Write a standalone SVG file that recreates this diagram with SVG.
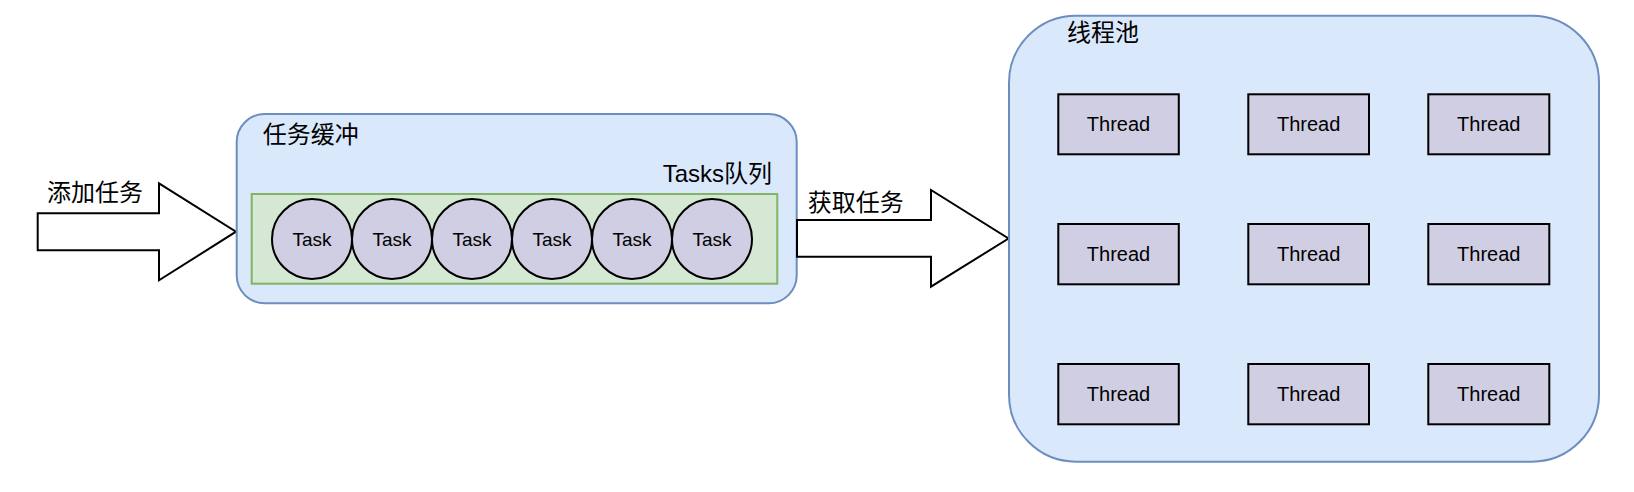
<svg xmlns="http://www.w3.org/2000/svg" width="1634" height="492" viewBox="0 0 1634 492">
<style>
.container{fill:#dae8fc;stroke:#6c8ebf;stroke-width:2}
.queue{fill:#d5e8d4;stroke:#82b366;stroke-width:2}
.item{fill:#d0cee2;stroke:#000;stroke-width:2}
.arrow{fill:#fff;stroke:#000;stroke-width:2;stroke-linejoin:miter}
.lbl{font-family:"Liberation Sans","Noto Sans CJK SC",sans-serif;font-size:24px;fill:#000}
.task{font-family:"Liberation Sans",Arial,sans-serif;font-size:19px;fill:#000;text-anchor:middle}
.thread{font-family:"Liberation Sans",Arial,sans-serif;font-size:20px;fill:#000;text-anchor:middle}
</style>
<g id="connectors">
  <g id="add-task-arrow">
    <polygon class="arrow" points="37.7,213.3 159,213.3 159,183.3 236,231.7 159,280.3 159,250.3 37.7,250.3"/>
    <text class="lbl" x="47" y="201">添加任务</text>
  </g>
</g>
<g id="buffer">
  <rect class="container" x="236.7" y="114" width="560" height="189.3" rx="28" ry="28"/>
  <text class="lbl" x="262.7" y="143">任务缓冲</text>
</g>
<g id="queue">
  <rect class="queue" x="251.7" y="194" width="525.6" height="89.7"/>
  <text class="lbl" x="772" y="181.7" text-anchor="end">Tasks队列</text>
</g>
<g id="task1"><circle class="item" cx="312" cy="239" r="40"/><text class="task" x="312" y="245.5">Task</text></g>
<g id="task2"><circle class="item" cx="392" cy="239" r="40"/><text class="task" x="392" y="245.5">Task</text></g>
<g id="task3"><circle class="item" cx="472" cy="239" r="40"/><text class="task" x="472" y="245.5">Task</text></g>
<g id="task4"><circle class="item" cx="552" cy="239" r="40"/><text class="task" x="552" y="245.5">Task</text></g>
<g id="task5"><circle class="item" cx="632" cy="239" r="40"/><text class="task" x="632" y="245.5">Task</text></g>
<g id="task6"><circle class="item" cx="712" cy="239" r="40"/><text class="task" x="712" y="245.5">Task</text></g>
<g id="connectors2">
  <g id="fetch-task-arrow">
    <polygon class="arrow" points="797,220 931,220 931,190 1008.5,238.5 931,286.7 931,256.7 797,256.7"/>
    <text class="lbl" x="807.7" y="211">获取任务</text>
  </g>
</g>
<g id="pool">
  <rect class="container" x="1009" y="15.7" width="590" height="446" rx="67" ry="67"/>
  <text class="lbl" x="1067" y="41">线程池</text>
</g>
<g id="thread1"><rect class="item" x="1058.3" y="94.3" width="120.5" height="60"/><text class="thread" x="1118.5" y="131">Thread</text></g>
<g id="thread2"><rect class="item" x="1248.3" y="94.3" width="120.7" height="60"/><text class="thread" x="1308.7" y="131">Thread</text></g>
<g id="thread3"><rect class="item" x="1428.3" y="94.3" width="121" height="60"/><text class="thread" x="1488.8" y="131">Thread</text></g>
<g id="thread4"><rect class="item" x="1058.3" y="224" width="120.5" height="60.3"/><text class="thread" x="1118.5" y="261">Thread</text></g>
<g id="thread5"><rect class="item" x="1248.3" y="224" width="120.7" height="60.3"/><text class="thread" x="1308.7" y="261">Thread</text></g>
<g id="thread6"><rect class="item" x="1428.3" y="224" width="121" height="60.3"/><text class="thread" x="1488.8" y="261">Thread</text></g>
<g id="thread7"><rect class="item" x="1058.3" y="364" width="120.5" height="60.3"/><text class="thread" x="1118.5" y="401">Thread</text></g>
<g id="thread8"><rect class="item" x="1248.3" y="364" width="120.7" height="60.3"/><text class="thread" x="1308.7" y="401">Thread</text></g>
<g id="thread9"><rect class="item" x="1428.3" y="364" width="121" height="60.3"/><text class="thread" x="1488.8" y="401">Thread</text></g>
</svg>
